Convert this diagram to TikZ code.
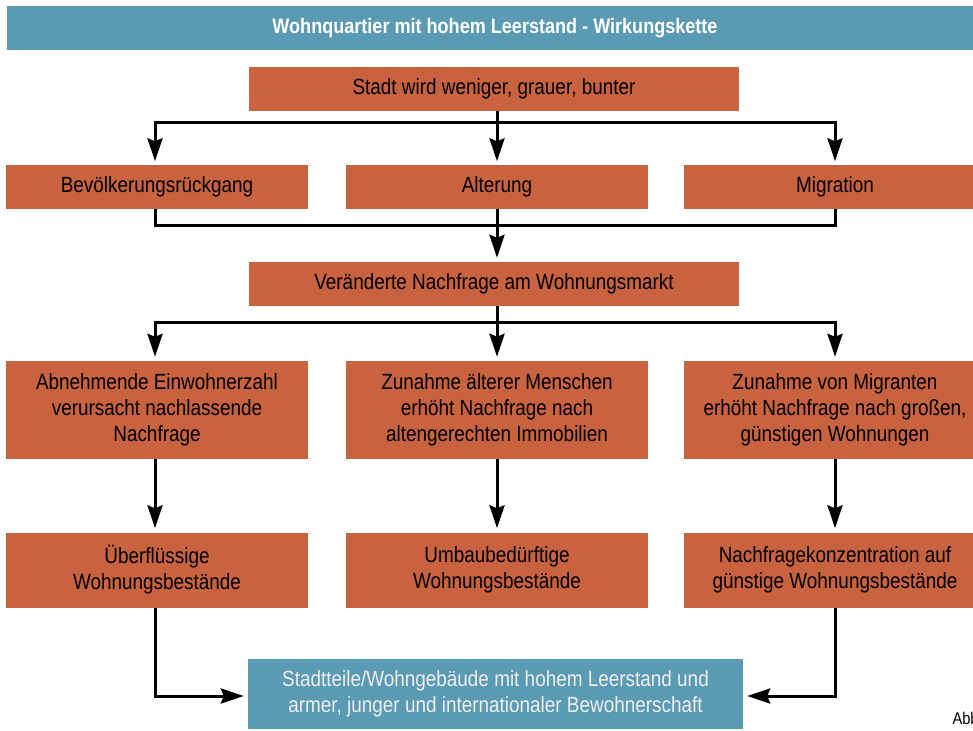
\documentclass[tikz,border=0pt]{standalone}
\usepackage{fontspec}
\setmainfont[FakeStretch=0.86]{Liberation Sans}
\usetikzlibrary{arrows.meta}

\definecolor{rost}{HTML}{C8623F}
\definecolor{petrol}{HTML}{5B9AB3}

\tikzset{
  box/.style={fill=rost, text=black, align=center, inner sep=0pt,
    minimum width=302pt, font=\fontsize{22}{26}\selectfont},
  widebox/.style={box, minimum width=490pt, minimum height=44pt},
  bluebox/.style={fill=petrol, text=white, align=center, inner sep=0pt,
    font=\fontsize{22}{26}\selectfont},
  conn/.style={line width=3pt},
  arr/.style={conn, shorten >=4pt, -{Stealth[length=23pt,width=15pt,inset=3pt]}}
}

\begin{document}
\begin{tikzpicture}[x=1pt,y=-1pt]
  \useasboundingbox (0,0) rectangle (973,730);

  % Titel
  \node[bluebox, minimum width=976pt, minimum height=44pt,
    font=\bfseries\fontsize{21}{24}\selectfont] (titel) at (495,28)
    {Wohnquartier mit hohem Leerstand - Wirkungskette};

  % Ursachen
  \node[widebox] (stadt) at (494,89) {Stadt wird weniger, grauer, bunter};
  \node[box, minimum height=43pt] (bevoelkerung) at (157,187) {Bevölkerungsrückgang};
  \node[box, minimum height=43pt] (alterung) at (497,187) {Alterung};
  \node[box, minimum height=43pt] (migration) at (835,187) {Migration};

  \node[widebox] (nachfrage) at (494,284) {Veränderte Nachfrage am Wohnungsmarkt};

  % Wirkungen
  \node[box, minimum height=98pt] (einwohner) at (157,410)
    {Abnehmende Einwohnerzahl\\verursacht nachlassende\\Nachfrage};
  \node[box, minimum height=98pt] (aeltere) at (497,410)
    {Zunahme älterer Menschen\\erhöht Nachfrage nach\\altengerechten Immobilien};
  \node[box, minimum height=98pt] (migranten) at (835,410)
    {Zunahme von Migranten\\erhöht Nachfrage nach großen,\\günstigen Wohnungen};

  \node[box, minimum height=75pt] (ueberfluessig) at (157,570)
    {Überflüssige\\Wohnungsbestände};
  \node[box, minimum height=75pt] (umbau) at (497,570)
    {Umbaubedürftige\\Wohnungsbestände};
  \node[box, minimum height=75pt] (konzentration) at (835,570)
    {Nachfragekonzentration auf\\günstige Wohnungsbestände};

  \node[bluebox, minimum width=495pt, minimum height=70pt,
    text=white!94!black] (leerstand) at (495.5,694)
    {Stadtteile/Wohngebäude mit hohem Leerstand und\\armer, junger und internationaler Bewohnerschaft};

  \node[anchor=base west, font=\fontsize{17}{20}\selectfont] (abb) at (949,724) {Abb.};

  % Verbindungen
  \coordinate (v1) at (497,123);
  \coordinate (v2) at (497,225);
  \coordinate (v3) at (497,322);

  \draw[conn] (stadt.south -| v1) -- (v1);
  \draw[arr] (v1) -| (bevoelkerung.north -| 155,0);
  \draw[arr] (v1) -- (alterung.north);
  \draw[arr] (v1) -| (migration.north);

  \draw[conn] (bevoelkerung.south -| 155,0) |- (v2) -| (migration.south);
  \draw[conn] (alterung.south) -- (v2);
  \draw[arr] (v2) -- (nachfrage.north -| v2);

  \draw[conn] (nachfrage.south -| v3) -- (v3);
  \draw[arr] (v3) -| (einwohner.north -| 155,0);
  \draw[arr] (v3) -- (aeltere.north);
  \draw[arr] (v3) -| (migranten.north);

  \draw[arr] (einwohner.south -| 155,0) -- (ueberfluessig.north -| 155,0);
  \draw[arr] (aeltere.south) -- (umbau.north);
  \draw[arr] (migranten.south) -- (konzentration.north);

  \draw[arr] (ueberfluessig.south -| 155,0) |- (leerstand.west |- 0,696);
  \draw[arr] (konzentration.south) |- (leerstand.east |- 0,696);
\end{tikzpicture}
\end{document}
